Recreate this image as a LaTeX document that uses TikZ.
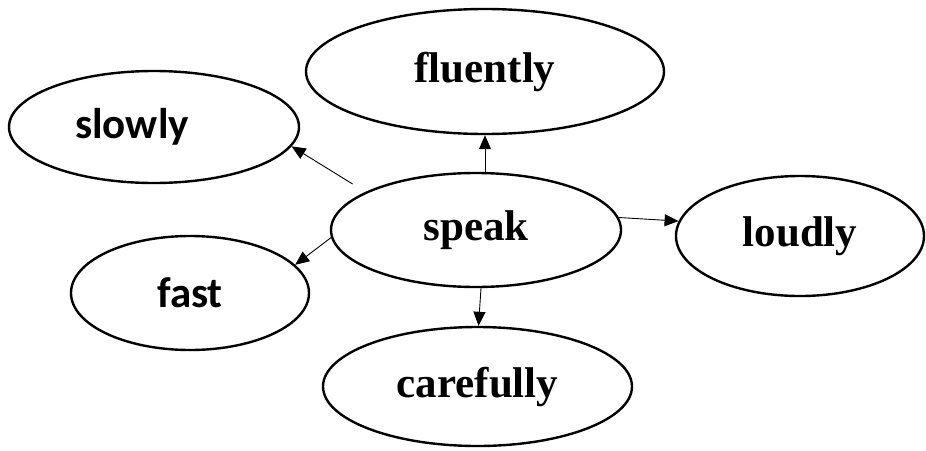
\documentclass[tikz,border=0pt]{standalone}
\usepackage{fontspec}
\setmainfont{Liberation Serif}
\newfontfamily\calib{Carlito}
\usetikzlibrary{shapes.geometric,arrows.meta}
\begin{document}
\begin{tikzpicture}[x=1pt,y=-1pt,
  oval/.style={ellipse,draw=black,line width=2.4pt,inner sep=0pt},
  serifword/.style={font=\fontsize{43}{47}\selectfont\bfseries},
  sansword/.style={font=\fontsize{43}{47}\selectfont\calib\bfseries},
  link/.style={-{Triangle[length=14pt,width=12pt]},line width=0.9pt}]
\useasboundingbox (0,0) rectangle (926,450);
\node[oval,sansword,minimum width=290pt,minimum height=112pt] (slowly) at (154,127) {slowly\rule{44pt}{0pt}};
\node[oval,serifword,minimum width=358pt,minimum height=125pt] (fluently) at (485,71.5) {fluently};
\node[oval,serifword,minimum width=290pt,minimum height=114pt] (speak) at (476,230) {speak};
\node[oval,serifword,minimum width=248pt,minimum height=120pt] (loudly) at (800,236) {loudly};
\node[oval,sansword,minimum width=238pt,minimum height=114pt] (fast) at (190,293) {fast};
\node[oval,serifword,minimum width=309pt,minimum height=119pt] (carefully) at (477.5,386.5) {carefully};
\draw[link,shorten <=15pt] (speak.161) -- (slowly.-8);
\draw[link] (speak.north -| fluently.south) -- (fluently.south);
\draw[link] (speak.5) -- (loudly.173);
\draw[link] (speak.183) -- (fast.15);
\draw[link] ([xshift=5pt]speak.south) -- ([xshift=1pt]carefully.north);
\end{tikzpicture}
\end{document}
